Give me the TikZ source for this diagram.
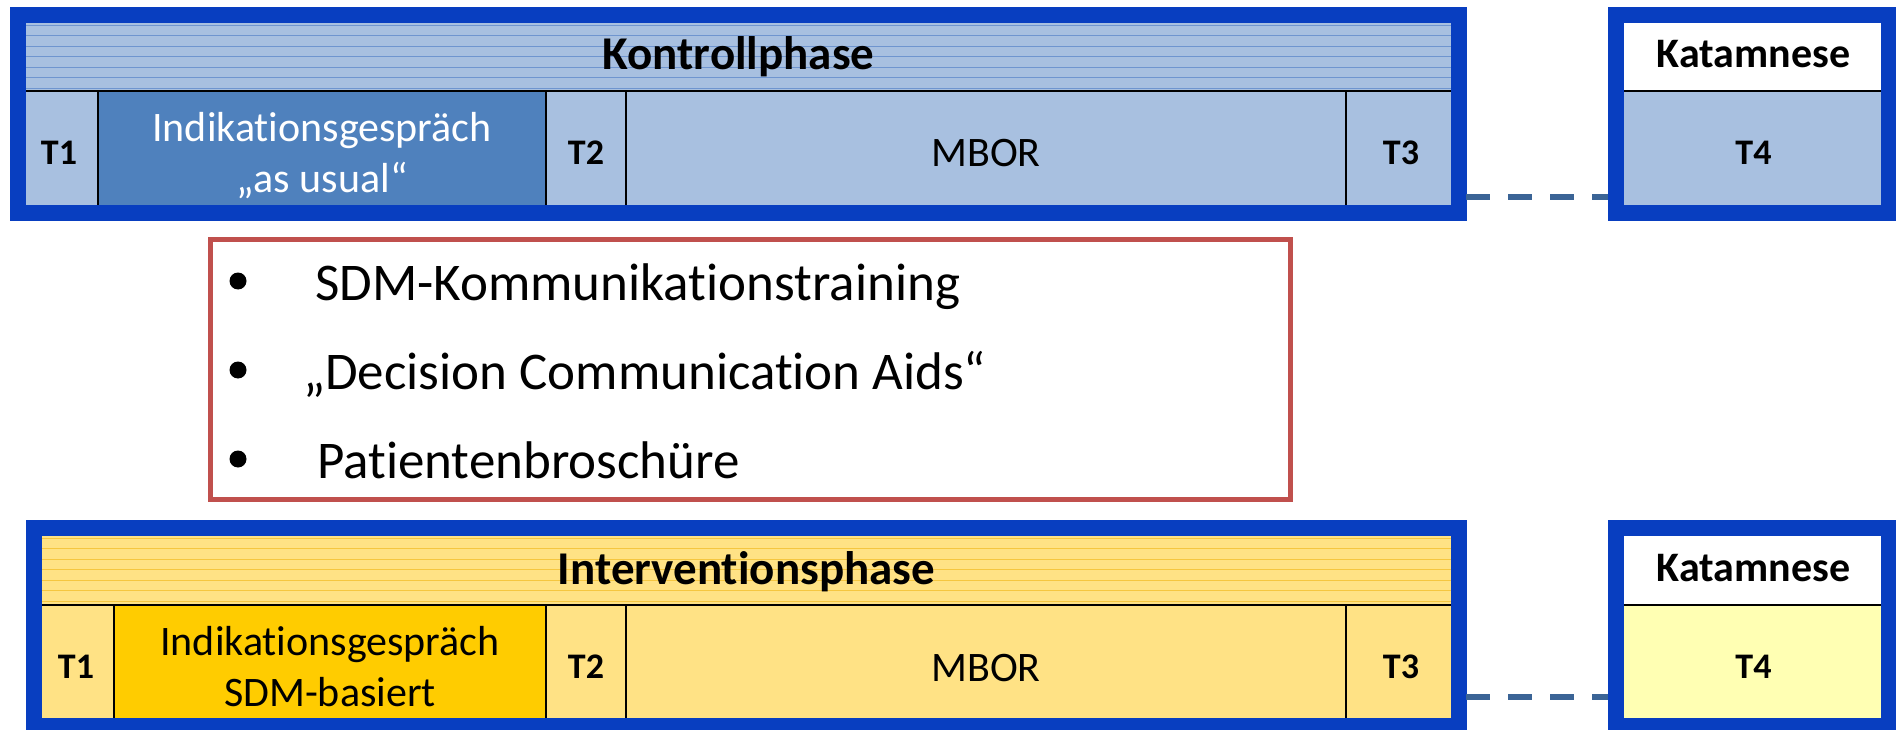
\documentclass[tikz,border=0pt]{standalone}
\usepackage{fontspec}
\setmainfont{Carlito}[Ligatures=CommonOff]
\definecolor{frameblue}{HTML}{083EC0}
\definecolor{lightblue}{HTML}{A8C0E0}
\definecolor{darkblue}{HTML}{4F81BD}
\definecolor{hlineblue}{HTML}{6F95CF}
\definecolor{lightyellow}{HTML}{FFE285}
\definecolor{gold}{HTML}{FFCC00}
\definecolor{hlineyellow}{HTML}{F5C640}
\definecolor{paleyellow}{HTML}{FFFFB3}
\definecolor{redframe}{HTML}{C0504D}
\definecolor{dashblue}{HTML}{3B6496}
\begin{document}
\begin{tikzpicture}[x=1pt,y=-1pt,
  frame/.style={draw=frameblue,line width=16pt},
  divider/.style={draw=black,line width=2.5pt},
  hl/.style={line width=0.8pt},
  dashline/.style={draw=dashblue,line width=5.5pt,dash pattern=on 24pt off 18pt},
  headtxt/.style={anchor=base,inner sep=0pt,font=\fontsize{47}{56}\selectfont\bfseries},
  ttxt/.style={anchor=base,inner sep=0pt,font=\fontsize{36}{43}\selectfont\bfseries},
  kattxt/.style={anchor=base,inner sep=0pt,font=\fontsize{42}{50}\selectfont\bfseries},
  celltxt/.style={anchor=base,inner sep=0pt,font=\fontsize{42}{50}\selectfont},
  bultxt/.style={anchor=base west,inner sep=0pt,font=\fontsize{53}{64}\selectfont}
]
\useasboundingbox (0,0) rectangle (1896,730);
\fill[white] (0,0) rectangle (1896,730);

% ===== Kontrollphase (top) =====
\fill[lightblue] (26,23) rectangle (1451,206);
\foreach \yy in {25,35.5,46,56.5,67,77.5,88} \draw[hl,hlineblue] (26,\yy) -- (1451,\yy);
\fill[darkblue] (98,91) rectangle (546,206);
\draw[divider] (26,91) -- (1451,91);
\draw[divider] (98,91) -- (98,206);
\draw[divider] (546,91) -- (546,206);
\draw[divider] (626,91) -- (626,206);
\draw[divider] (1346,91) -- (1346,206);
\draw[frame] (18,15) rectangle (1458.5,213.5);
\node[headtxt] (kh) at (738.5,70) {Kontrollphase};
\node[ttxt] (kt1) at (59,165) {T1};
\node[celltxt,text=white] (ki1) at (322,142) {Indikationsgespräch};
\node[celltxt,text=white] (ki2) at (322,193) {„as usual“};
\node[ttxt] (kt2) at (586,165) {T2};
\node[celltxt] (km) at (986,167) {MBOR};
\node[ttxt] (kt3) at (1401,165) {T3};

% Katamnese top
\fill[white] (1624,23) rectangle (1883,91);
\fill[lightblue] (1624,91) rectangle (1883,206);
\draw[divider] (1624,91) -- (1883,91);
\draw[frame] (1616,15) rectangle (1889,213.5);
\node[kattxt] (kk1) at (1753.5,68) {Katamnese};
\node[ttxt] (kt4) at (1753.5,165) {T4};

\coordinate (d1a) at (1466,197);
\coordinate (d1b) at (1608,197);
\draw[dashline] (d1a) -- (d1b);

% ===== red box =====
\draw[redframe,line width=5pt] (210,239.5) rectangle (1290.5,499.5);
\fill[black] (238,281) circle (8.5pt);
\fill[black] (238,370) circle (8.5pt);
\fill[black] (238,459) circle (8.5pt);
\node[bultxt] (b1) at (315,300) {SDM-Kommunikationstraining};
\node[bultxt] (b2) at (303,389) {„Decision Communication Aids“};
\node[bultxt] (b3) at (317,478) {Patientenbroschüre};

% ===== Interventionsphase (bottom) =====
\fill[lightyellow] (42,536) rectangle (1451,718);
\foreach \yy in {538,548.5,559,569.5,580,590.5,601} \draw[hl,hlineyellow] (42,\yy) -- (1451,\yy);
\fill[gold] (114,605) rectangle (546,718);
\draw[divider] (42,605) -- (1451,605);
\draw[divider] (114,605) -- (114,718);
\draw[divider] (546,605) -- (546,718);
\draw[divider] (626,605) -- (626,718);
\draw[divider] (1346,605) -- (1346,718);
\draw[frame] (34,528) rectangle (1458.5,726);
\node[headtxt] (ih) at (746.5,584) {Interventionsphase};
\node[ttxt] (it1) at (76,678) {T1};
\node[celltxt] (ii1) at (330,655) {Indikationsgespräch};
\node[celltxt] (ii2) at (330,706) {SDM-basiert};
\node[ttxt] (it2) at (586,678) {T2};
\node[celltxt] (im) at (986,681) {MBOR};
\node[ttxt] (it3) at (1401,678) {T3};

% Katamnese bottom
\fill[white] (1624,536) rectangle (1883,605);
\fill[paleyellow] (1624,605) rectangle (1883,718);
\draw[divider] (1624,605) -- (1883,605);
\draw[frame] (1616,528) rectangle (1889,726);
\node[kattxt] (ik1) at (1753.5,581) {Katamnese};
\node[ttxt] (it4) at (1753.5,678) {T4};

\coordinate (d2a) at (1466,697);
\coordinate (d2b) at (1608,697);
\draw[dashline] (d2a) -- (d2b);
\end{tikzpicture}
\end{document}
